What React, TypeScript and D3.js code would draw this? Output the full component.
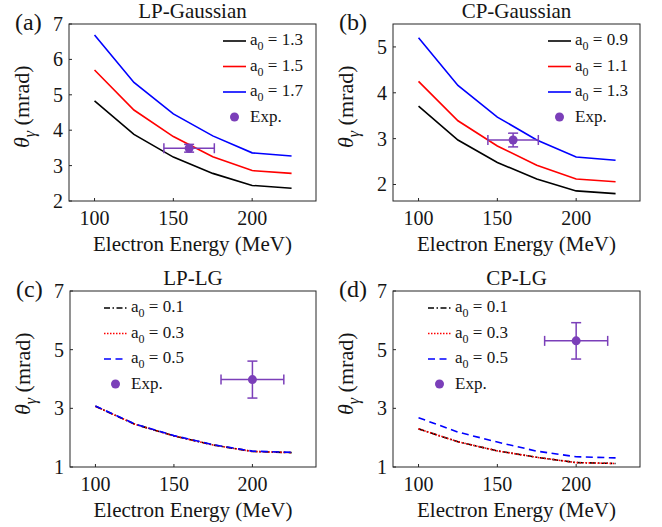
import React from 'react';
import * as d3 from 'd3';

// electron energies (MeV) of the simulated points
const energies = [100, 125, 150, 175, 200, 225];

// (a) LP-Gaussian
const lpGaussA13 = [4.83, 3.88, 3.24, 2.78, 2.44, 2.36];
const lpGaussA15 = [5.70, 4.57, 3.82, 3.25, 2.86, 2.78];
const lpGaussA17 = [6.69, 5.35, 4.46, 3.84, 3.36, 3.27];
const lpGaussExp = { x: 160, y: 3.49, xErr: 16, yErr: 0.11 };

// (b) CP-Gaussian
const cpGaussA09 = [3.71, 2.97, 2.48, 2.12, 1.86, 1.80];
const cpGaussA11 = [4.25, 3.39, 2.84, 2.42, 2.12, 2.06];
const cpGaussA13 = [5.20, 4.16, 3.47, 2.97, 2.60, 2.53];
const cpGaussExp = { x: 160, y: 2.97, xErr: 16, yErr: 0.15 };

// (c) LP-LG
const lpLgA01 = [3.07, 2.46, 2.06, 1.75, 1.53, 1.49];
const lpLgA03 = [3.07, 2.46, 2.06, 1.75, 1.53, 1.49];
const lpLgA05 = [3.08, 2.47, 2.07, 1.76, 1.54, 1.50];
const lpLgExp = { x: 200, y: 3.98, xErr: 20, yErr: 0.63 };

// (d) CP-LG
const cpLgA01 = [2.30, 1.86, 1.55, 1.33, 1.15, 1.12];
const cpLgA03 = [2.30, 1.86, 1.55, 1.33, 1.15, 1.12];
const cpLgA05 = [2.68, 2.19, 1.85, 1.54, 1.35, 1.31];
const cpLgExp = { x: 200, y: 5.30, xErr: 20, yErr: 0.62 };

const xTicks = [100, 150, 200];
const purple = '#7b3fb9';
const font = "'Liberation Serif', 'DejaVu Serif', 'Times New Roman', serif";

type Series = { values: number[]; label: string; color: string; dash?: string };

type PanelProps = {
    tag: string;
    title: string;
    left: number; right: number; top: number; bottom: number;
    yDomain: [number, number];
    yTicks: number[];
    series: Series[];
    exp: { x: number; y: number; xErr: number; yErr: number };
    legendLeft: number; // offset of legend line start from axes left
};

function Panel(p: PanelProps) {
    const x = d3.scaleLinear().domain([83.8, 240.5]).range([p.left, p.right]);
    const y = d3.scaleLinear().domain(p.yDomain).range([p.bottom, p.top]);
    const line = d3.line<number>().x((d, i) => x(energies[i])).y(d => y(d));
    const axisColor = '#262626';
    const midX = (p.left + p.right) / 2;
    const ex = x(p.exp.x), ey = y(p.exp.y);
    const lx0 = p.left + p.legendLeft, lx1 = lx0 + 23, tx = lx1 + 4;
    const rows = [17, 42.5, 68, 93].map(d => p.top + d);

    return (
        <g style={{ fontFamily: font }} fill="#151515">
            <text x={p.left - 54} y={p.top + 6} fontSize={24}>{p.tag}</text>
            <text x={midX} y={p.top - 6} fontSize={21} textAnchor="middle">{p.title}</text>

            {p.series.map((s, i) => (
                <path key={i} d={line(s.values) || ''} fill="none" stroke={s.color}
                    strokeWidth={1.6} strokeDasharray={s.dash} />
            ))}

            {/* experiment point with error bars */}
            <g stroke={purple} strokeWidth={1.5}>
                <line x1={x(p.exp.x - p.exp.xErr)} x2={x(p.exp.x + p.exp.xErr)} y1={ey} y2={ey} />
                <line x1={x(p.exp.x - p.exp.xErr)} x2={x(p.exp.x - p.exp.xErr)} y1={ey - 5} y2={ey + 5} />
                <line x1={x(p.exp.x + p.exp.xErr)} x2={x(p.exp.x + p.exp.xErr)} y1={ey - 5} y2={ey + 5} />
                <line x1={ex} x2={ex} y1={y(p.exp.y - p.exp.yErr)} y2={y(p.exp.y + p.exp.yErr)} />
                <line x1={ex - 5} x2={ex + 5} y1={y(p.exp.y - p.exp.yErr)} y2={y(p.exp.y - p.exp.yErr)} />
                <line x1={ex - 5} x2={ex + 5} y1={y(p.exp.y + p.exp.yErr)} y2={y(p.exp.y + p.exp.yErr)} />
            </g>
            <circle cx={ex} cy={ey} r={4.5} fill={purple} />

            {/* axes box */}
            <rect x={p.left} y={p.top} width={p.right - p.left} height={p.bottom - p.top}
                fill="none" stroke={axisColor} strokeWidth={1} />
            {xTicks.map(t => (
                <g key={'x' + t}>
                    <line x1={x(t)} x2={x(t)} y1={p.bottom} y2={p.bottom - 3} stroke={axisColor} />
                    <text x={x(t)} y={p.bottom + 24} fontSize={20} textAnchor="middle">{t}</text>
                </g>
            ))}
            {p.yTicks.map(t => (
                <g key={'y' + t}>
                    <line x1={p.left} x2={p.left + 3} y1={y(t)} y2={y(t)} stroke={axisColor} />
                    <text x={p.left - 6} y={y(t) + 7} fontSize={20} textAnchor="end">{t}</text>
                </g>
            ))}
            <text x={midX} y={p.bottom + 50} fontSize={21} textAnchor="middle">Electron Energy (MeV)</text>
            <text transform={`translate(${p.left - 40},${p.top + 124}) rotate(-90)`} fontSize={22}>
                <tspan fontStyle="italic">θ</tspan>
                <tspan fontStyle="italic" fontSize={16} dy={6}>γ</tspan>
                <tspan dy={-6}> (mrad)</tspan>
            </text>

            {/* legend */}
            {p.series.map((s, i) => (
                <g key={'l' + i}>
                    <line x1={lx0} x2={lx1} y1={rows[i]} y2={rows[i]} stroke={s.color}
                        strokeWidth={1.6} strokeDasharray={s.dash} />
                    <text x={tx} y={rows[i] + 4} fontSize={17}>
                        a<tspan fontSize={12} dy={5}>0</tspan><tspan dy={-5}> = {s.label}</tspan>
                    </text>
                </g>
            ))}
            <circle cx={(lx0 + lx1) / 2} cy={rows[3]} r={4.5} fill={purple} />
            <text x={tx} y={rows[3] + 5} fontSize={17}>Exp.</text>
        </g>
    );
}

const dashDot = '6,2.5,1.5,2.5';
const dotted = '1.5,1.5';
const dashed = '7,4.5';

export default function App() {
    return (
        <svg width={662} height={527} style={{ position: 'absolute', left: 0, top: 0, background: '#fff', fontFamily: font }}>
            <rect width={662} height={527} fill="#fff" />
            <Panel tag="(a)" title="LP-Gaussian" left={69} right={316} top={24} bottom={201}
                yDomain={[2, 7]} yTicks={[2, 3, 4, 5, 6, 7]} legendLeft={154}
                exp={lpGaussExp}
                series={[
                    { values: lpGaussA13, label: '1.3', color: '#000' },
                    { values: lpGaussA15, label: '1.5', color: '#f00' },
                    { values: lpGaussA17, label: '1.7', color: '#00f' },
                ]} />
            <Panel tag="(b)" title="CP-Gaussian" left={393} right={640} top={24} bottom={201}
                yDomain={[1.64, 5.5]} yTicks={[2, 3, 4, 5]} legendLeft={155}
                exp={cpGaussExp}
                series={[
                    { values: cpGaussA09, label: '0.9', color: '#000' },
                    { values: cpGaussA11, label: '1.1', color: '#f00' },
                    { values: cpGaussA13, label: '1.3', color: '#00f' },
                ]} />
            <Panel tag="(c)" title="LP-LG" left={70} right={316} top={291} bottom={467}
                yDomain={[1, 7]} yTicks={[1, 3, 5, 7]} legendLeft={34}
                exp={lpLgExp}
                series={[
                    { values: lpLgA01, label: '0.1', color: '#000', dash: dashDot },
                    { values: lpLgA03, label: '0.3', color: '#f00', dash: dotted },
                    { values: lpLgA05, label: '0.5', color: '#00f', dash: dashed },
                ]} />
            <Panel tag="(d)" title="CP-LG" left={393} right={640} top={291} bottom={467}
                yDomain={[1, 7]} yTicks={[1, 3, 5, 7]} legendLeft={35}
                exp={cpLgExp}
                series={[
                    { values: cpLgA01, label: '0.1', color: '#000', dash: dashDot },
                    { values: cpLgA03, label: '0.3', color: '#f00', dash: dotted },
                    { values: cpLgA05, label: '0.5', color: '#00f', dash: dashed },
                ]} />
        </svg>
    );
}
